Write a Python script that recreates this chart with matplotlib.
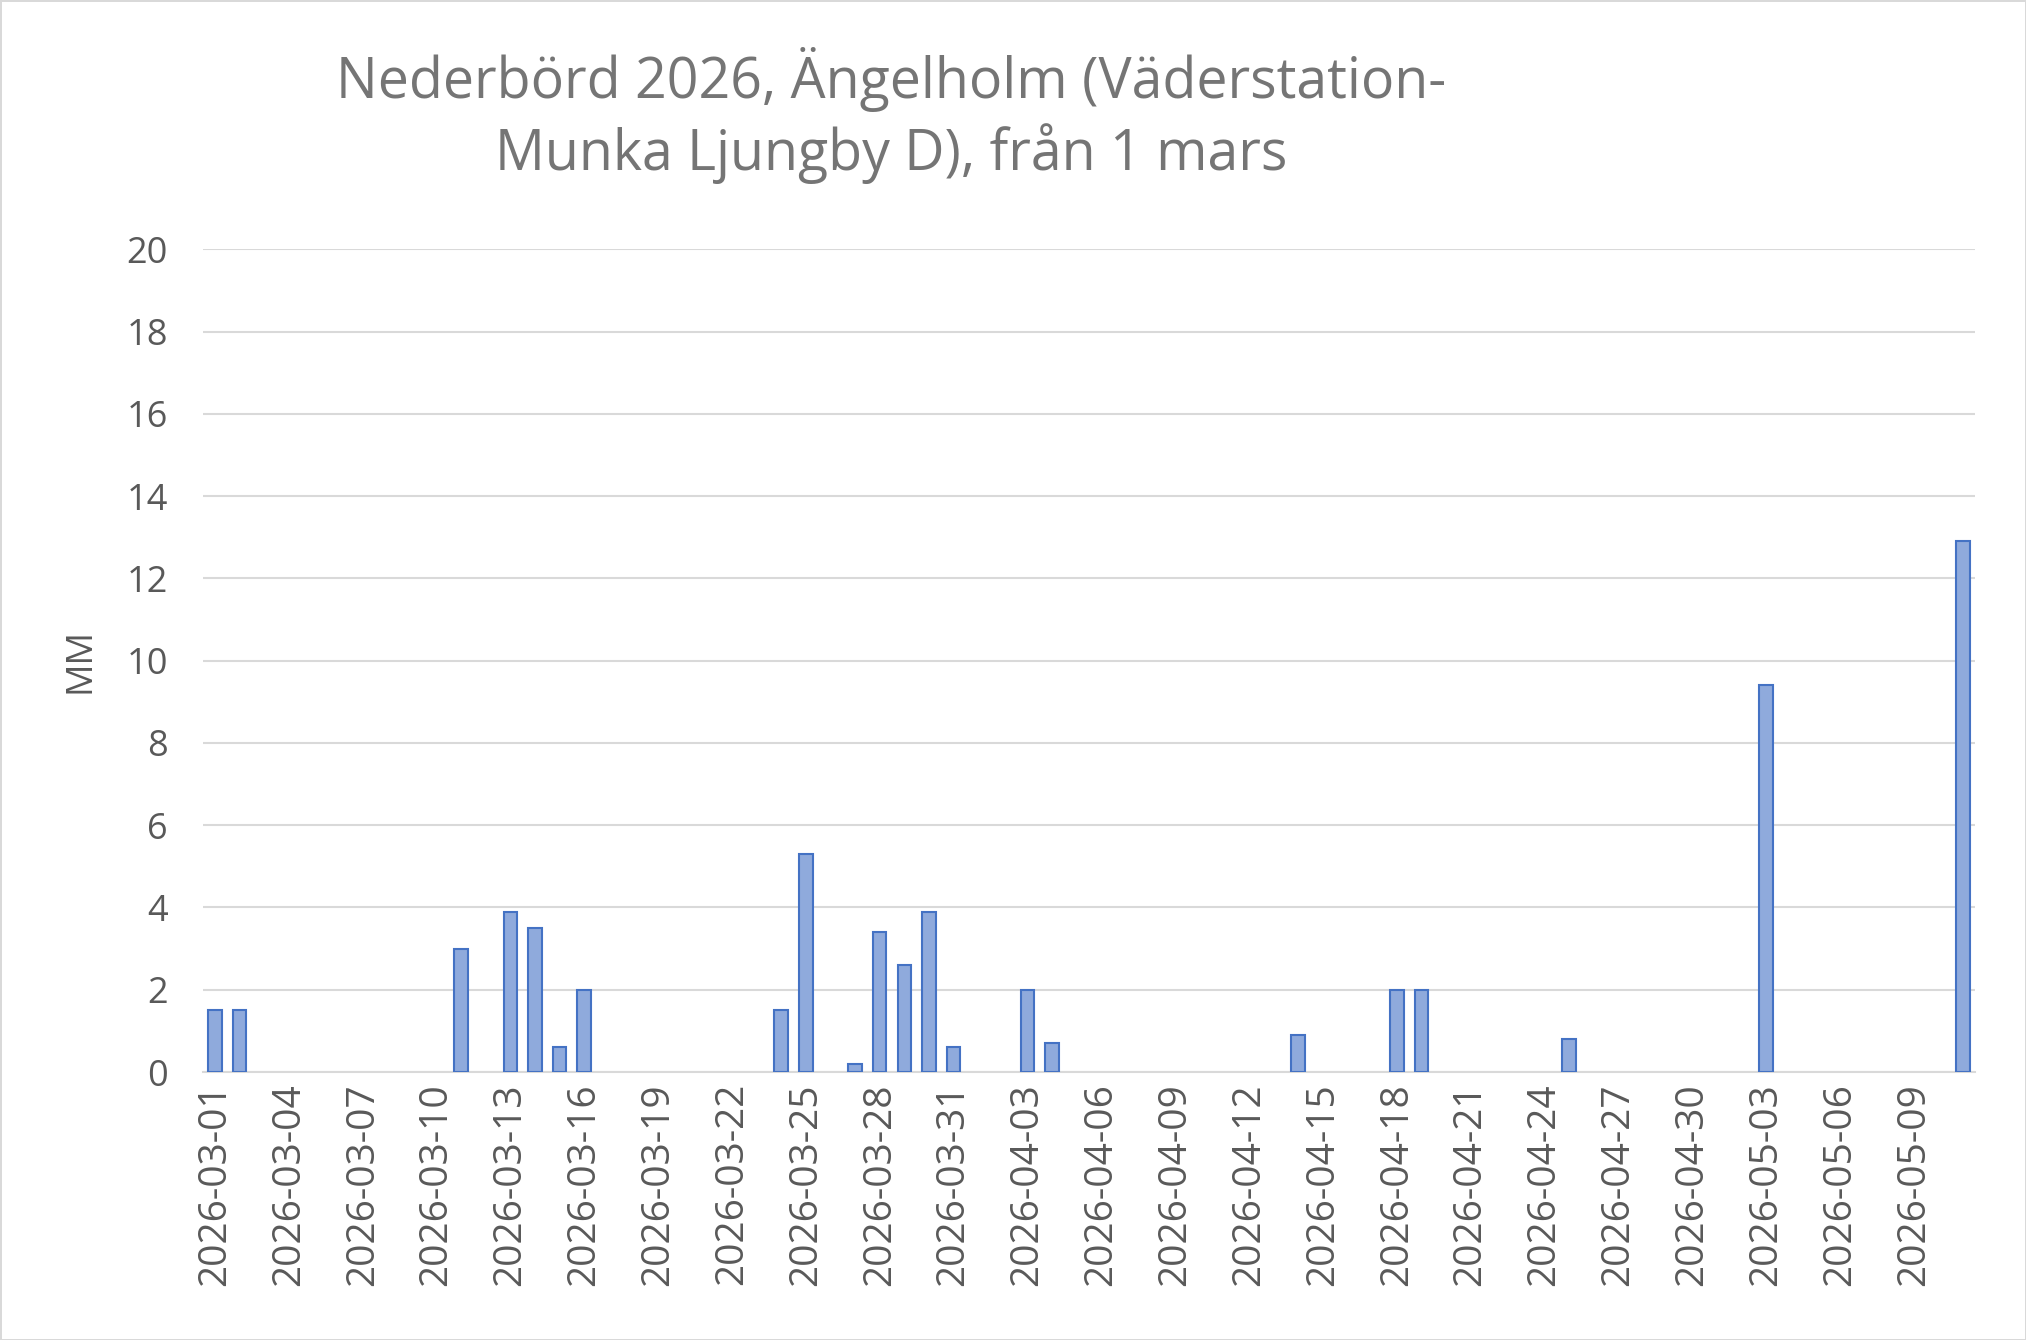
import matplotlib.pyplot as plt
import pandas as pd

dates = pd.date_range("2026-03-01", "2026-05-11").strftime("%Y-%m-%d").tolist()
rain = {0: 1.5, 1: 1.5, 10: 3.0, 12: 3.9, 13: 3.5, 14: 0.6, 15: 2.0,
        23: 1.5, 24: 5.3, 26: 0.2, 27: 3.4, 28: 2.6, 29: 3.9, 30: 0.6,
        33: 2.0, 34: 0.7, 44: 0.9, 48: 2.0, 49: 2.0, 55: 0.8, 63: 9.4, 71: 12.9}
values = [rain.get(i, 0) for i in range(len(dates))]

plt.rcParams['font.family'] = ['Open Sans', 'DejaVu Sans']
fig = plt.figure(figsize=(20.26, 13.40), dpi=100)
fig.patch.set_edgecolor('#d9d9d9')
fig.patch.set_linewidth(2)
ax = fig.add_axes([0.1, 0.2, 0.875, 0.614])

# only days with rain get a bar (no outline on empty days)
xs = [i for i, v in enumerate(values) if v > 0]
ax.bar(xs, [values[i] for i in xs], width=0.55, color='#8faadc',
       edgecolor='#4472c4', linewidth=1.5, zorder=3)
ax.set_ylim(0, 20)
ax.set_yticks(range(0, 21, 2))
ax.set_xlim(-0.5, len(dates) - 0.5)
ax.set_xticks(list(range(len(dates)))[::3])
ax.set_xticklabels(dates[::3], rotation=90, fontsize=28, color='#595959')
ax.tick_params(axis='y', labelsize=26, colors='#595959', length=0, pad=25)
ax.tick_params(axis='x', length=0, pad=8)
ax.grid(axis='y', color='#d9d9d9', linewidth=1.5, zorder=0)
for s in ['top', 'right', 'left']:
    ax.spines[s].set_visible(False)
ax.spines['bottom'].set_color('#d9d9d9')
ax.spines['bottom'].set_linewidth(1.5)
ax.set_ylabel("MM", fontsize=26, color='#595959', labelpad=20)
fig.text(0.44, 0.965, "Nederbörd 2026, Ängelholm (Väderstation-\nMunka Ljungby D), från 1 mars",
         ha='center', va='top', fontsize=40, color='#757575', linespacing=1.25)
fig.savefig("out.png", dpi=100, edgecolor=fig.get_edgecolor())
